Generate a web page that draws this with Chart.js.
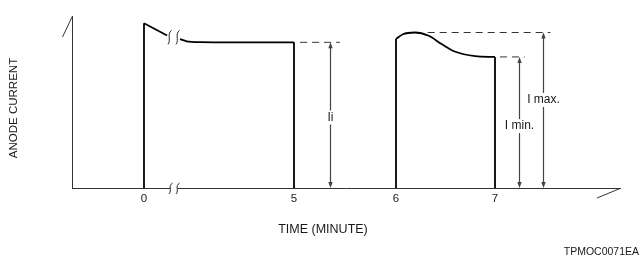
<!DOCTYPE html>
<html><head><meta charset="utf-8">
<script src="https://cdn.jsdelivr.net/npm/chart.js@4/dist/chart.umd.min.js"></script>
<style>html,body{margin:0;padding:0;background:#fff}canvas{display:block}</style>
</head><body>
<canvas id="c" width="640" height="260"></canvas>
<script>
// ---- data (time in minutes, current in relative units 0..100) ----
const tickTimes = [0, 5, 6, 7];
const breakTime = 1.0;
const pulse1HeadTime = [0, 0.77];
const pulse1HeadCurrent = [95.8, 88.7];
const pulse1TailTime = [1.2, 1.42, 1.87, 3, 5];
const pulse1TailCurrent = [86.5, 85.3, 84.8, 84.7, 84.7];
const pulse2Time = [6.0, 6.07, 6.19, 6.33, 6.46, 6.6, 6.8, 7.0];
const pulse2Current = [86.6, 89.4, 90.4, 88.5, 83.7, 79.2, 76.7, 76.2];
const measureLabels = ['Ii', 'I min.', 'I max.'];
const measureTime = [5.35, 7.24, 7.485];
const measureCurrent = [84.7, 76.2, 90.4];
const measureLabelAt = [41.0, 36.0, 51.2];
const refFrom = [5.06, 7.05, 6.32];
const refTo = [5.45, 7.30, 7.56];

// broken time axis: piecewise mapping of minutes to axis units
const AXIS_MAP = [[0, 0], [5, 1.5], [6, 2.52], [7, 3.51]];
function compress(t) {
  for (let i = 1; i < AXIS_MAP.length; i++) {
    const [t0, c0] = AXIS_MAP[i - 1], [t1, c1] = AXIS_MAP[i];
    if (t <= t1 || i === AXIS_MAP.length - 1) return c0 + (t - t0) * (c1 - c0) / (t1 - t0);
  }
}
const pts = (ts, vs) => ts.map((t, i) => ({x: compress(t), y: vs[i]}));

const FONT = "'Liberation Sans', Arial, sans-serif";
const lineStyle = {borderColor: '#000', borderWidth: 1.8, pointRadius: 0, fill: false};
const datasets = [
  {...lineStyle, data: pts([0, 0], [0, pulse1HeadCurrent[0]])},
  {...lineStyle, data: pts(pulse1HeadTime, pulse1HeadCurrent)},
  {...lineStyle, data: pts(pulse1TailTime, pulse1TailCurrent), cubicInterpolationMode: 'monotone'},
  {...lineStyle, data: pts([5, 5], [pulse1TailCurrent[pulse1TailCurrent.length - 1], 0])},
  {...lineStyle, data: pts([pulse2Time[0], pulse2Time[0]], [0, pulse2Current[0]])},
  {...lineStyle, data: pts(pulse2Time, pulse2Current), cubicInterpolationMode: 'monotone'},
  {...lineStyle, data: pts([7, 7], [pulse2Current[pulse2Current.length - 1], 0])},
];
measureLabels.forEach((_, i) => {
  datasets.push({borderColor: '#333', borderWidth: 1, borderDash: [7, 5], pointRadius: 0, fill: false,
    data: pts([refFrom[i], refTo[i]], [measureCurrent[i], measureCurrent[i]])});
});

function sBreak(ctx, x, y, h) {
  ctx.beginPath();
  ctx.moveTo(x + 2, y - h);
  ctx.bezierCurveTo(x - 3, y - h * 0.4, x + 2, y + h * 0.3, x - 1.5, y + h);
  ctx.stroke();
}

const decor = {
  id: 'decor',
  afterDatasetsDraw(chart) {
    const ctx = chart.ctx, xs = chart.scales.x, ys = chart.scales.y, a = chart.chartArea;
    ctx.save();
    // axis end slants
    ctx.strokeStyle = '#333'; ctx.lineWidth = 1;
    ctx.beginPath(); ctx.moveTo(a.left + 0.5, a.top); ctx.lineTo(a.left - 9.5, a.top + 21); ctx.stroke();
    ctx.beginPath(); ctx.moveTo(a.right, a.bottom + 0.5); ctx.lineTo(a.right - 23, a.bottom + 10); ctx.stroke();
    // axis break
    const bx = xs.getPixelForValue(compress(breakTime));
    ctx.fillStyle = '#fff';
    ctx.fillRect(bx - 3.5, a.bottom - 2, 7, 4);
    ctx.strokeStyle = '#222'; ctx.lineWidth = 1;
    sBreak(ctx, bx - 3.5, a.bottom + 0.5, 5.5);
    sBreak(ctx, bx + 3.5, a.bottom + 0.5, 5.5);
    // pulse break marks
    const by = ys.getPixelForValue((pulse1HeadCurrent[1] + pulse1TailCurrent[0]) / 2);
    sBreak(ctx, bx - 4.5, by, 7);
    sBreak(ctx, bx + 3.5, by, 7);
    // measurement arrows
    ctx.strokeStyle = '#444'; ctx.fillStyle = '#444'; ctx.lineWidth = 1.2;
    measureLabels.forEach((lab, i) => {
      const x = Math.round(xs.getPixelForValue(compress(measureTime[i]))) + 0.5;
      const yt = ys.getPixelForValue(measureCurrent[i]);
      const yb = ys.getPixelForValue(0);
      ctx.beginPath(); ctx.moveTo(x, yt + 3); ctx.lineTo(x, yb - 3); ctx.stroke();
      ctx.beginPath(); ctx.moveTo(x, yt); ctx.lineTo(x - 2.2, yt + 6); ctx.lineTo(x + 2.2, yt + 6); ctx.closePath(); ctx.fill();
      ctx.beginPath(); ctx.moveTo(x, yb); ctx.lineTo(x - 2.2, yb - 6); ctx.lineTo(x + 2.2, yb - 6); ctx.closePath(); ctx.fill();
      // label
      const ly = ys.getPixelForValue(measureLabelAt[i]);
      ctx.font = '12px ' + FONT;
      const w = ctx.measureText(lab).width;
      ctx.fillStyle = '#fff';
      ctx.fillRect(x - w / 2 - 1, ly - 7, w + 2, 14);
      ctx.fillStyle = '#1a1a1a';
      ctx.textAlign = 'center'; ctx.textBaseline = 'middle';
      ctx.fillText(lab, x, ly);
      ctx.fillStyle = '#444';
    });
    // titles
    ctx.fillStyle = '#1a1a1a';
    ctx.textAlign = 'center'; ctx.textBaseline = 'middle';
    ctx.font = '12.5px ' + FONT;
    ctx.fillText('TIME (MINUTE)', 323, 230);
    ctx.save();
    ctx.translate(14, 108); ctx.rotate(-Math.PI / 2);
    ctx.font = '11.5px ' + FONT;
    ctx.fillText('ANODE CURRENT', 0, 0);
    ctx.restore();
    ctx.textAlign = 'right';
    ctx.font = '10.5px ' + FONT;
    ctx.fillText('TPMOC0071EA', 639, 252);
    ctx.restore();
  }
};

new Chart(document.getElementById('c'), {
  type: 'line',
  data: {datasets},
  plugins: [decor],
  options: {
    responsive: false, animation: false, devicePixelRatio: 1,
    layout: {padding: {left: 72, right: 20, top: 16, bottom: 0}},
    plugins: {legend: {display: false}, tooltip: {enabled: false}},
    elements: {line: {tension: 0}},
    scales: {
      x: {
        type: 'linear', min: -0.72, max: 4.76,
        grid: {display: false, drawTicks: false},
        border: {display: true, color: '#333', width: 1},
        ticks: {font: {family: FONT, size: 11.5}, color: '#1a1a1a', padding: 4, autoSkip: false, maxRotation: 0,
          callback: (v, i) => String(tickTimes[i])},
        afterBuildTicks: s => { s.ticks = tickTimes.map(t => ({value: compress(t)})); },
        afterFit: s => { s.height = 72; }
      },
      y: {
        min: 0, max: 100,
        grid: {display: false, drawTicks: false},
        border: {display: true, color: '#333', width: 1},
        ticks: {display: false},
        afterFit: s => { s.width = 0; }
      }
    }
  }
});
</script>
</body></html>
